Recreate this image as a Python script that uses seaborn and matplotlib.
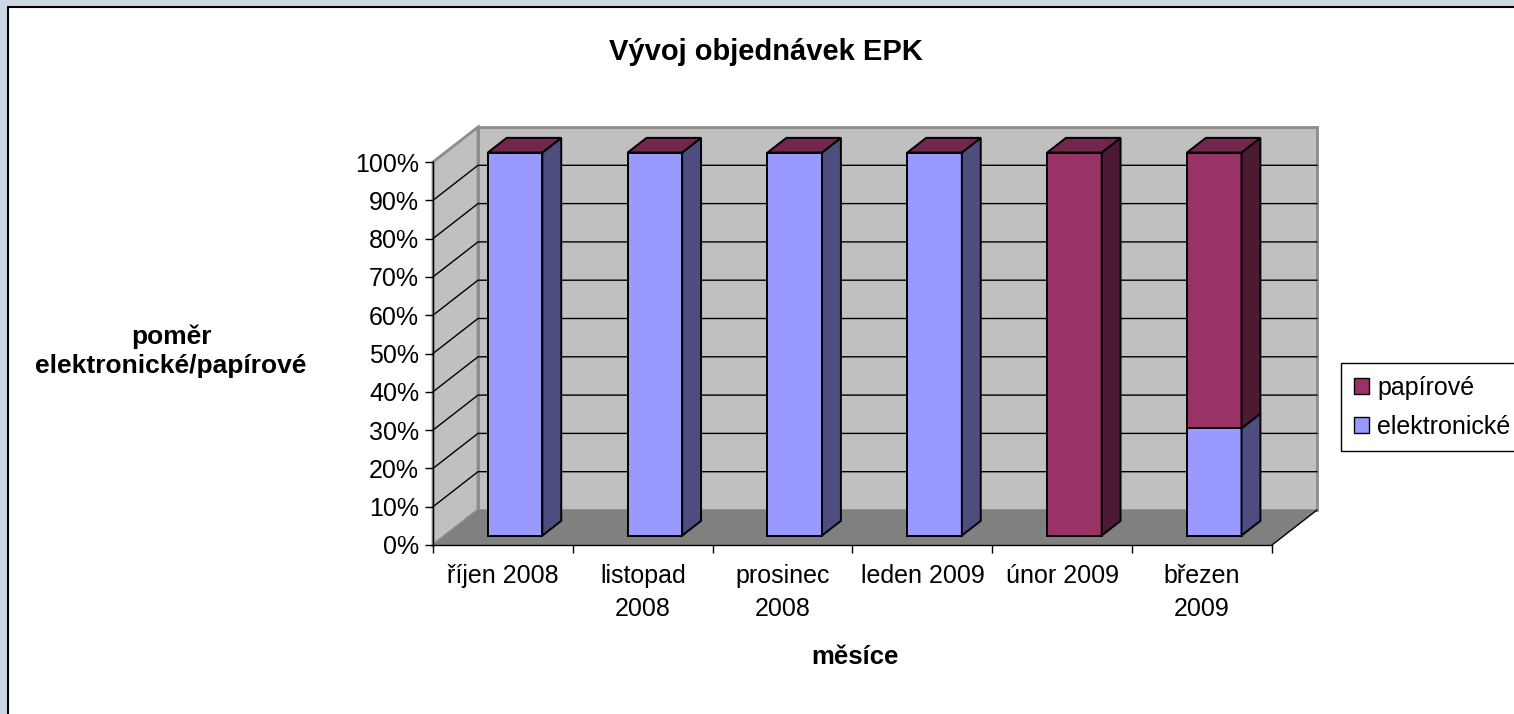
import numpy as np
import pandas as pd
import matplotlib
matplotlib.use("Agg")
import matplotlib.pyplot as plt
import seaborn as sns
from matplotlib.patches import Rectangle, Polygon, Patch

# Data (100% skladany sloupcovy graf)
mesice = ["říjen 2008", "listopad\n2008", "prosinec\n2008", "leden 2009", "únor 2009", "březen\n2009"]
elektronicke = [100, 100, 100, 100, 0, 28]
papirove = [0, 0, 0, 0, 100, 72]
y_ticks = list(range(0, 101, 10))

modra = "#9999FF"
vinova = "#993366"

sns.set_style("white")
plt.rcParams["font.family"] = ["Liberation Sans", "DejaVu Sans"]
plt.rcParams["text.color"] = "black"

W, H = 1514, 714
fig = plt.figure(figsize=(W / 100, H / 100), dpi=100)
fig.patch.set_facecolor("#CBD8E4")
fig.add_artist(Rectangle((8 / W, -0.05), 1.1, 1 - 7 / H + 0.05, transform=fig.transFigure,
                         facecolor="white", edgecolor="black", lw=1.5, zorder=0))

ax = fig.add_axes([433 / W, 1 - 545 / H, 839 / W, 383 / H])
ax.patch.set_visible(False)

df = pd.DataFrame({"mesic": mesice, "elektronicke": elektronicke, "papirove": papirove})
df["celkem"] = df["elektronicke"] + df["papirove"]

# predni steny sloupcu
sns.barplot(data=df, x="mesic", y="celkem", color=vinova, saturation=1, width=0.39,
            edgecolor="black", linewidth=1.4, ax=ax, zorder=3)
sns.barplot(data=df, x="mesic", y="elektronicke", color=modra, saturation=1, width=0.39,
            edgecolor="black", linewidth=1.4, ax=ax, zorder=3)

n = len(mesice)
ax.set_xlim(-0.5, n - 0.5)
ax.set_ylim(0, 100)
x_lo, x_hi = ax.get_xlim()

# 3D efekt - posun do hloubky (v datovych jednotkach)
DX = 45 / (839 / n)
DY = 35 / (383 / 100)
D0 = 0.27   # predni stena sloupce
BD = 0.42   # hloubka sloupce


def tmava(c, f):
    r, g, b = matplotlib.colors.to_rgb(c)
    return (r * f, g * f, b * f)


for p in ax.patches:
    p.set_x(p.get_x() + D0 * DX)
    p.set_y(p.get_y() + D0 * DY)
    p.set_clip_on(False)

for i, p in enumerate(ax.patches[:n]):
    x0 = p.get_x()
    x1 = x0 + p.get_width()
    y0 = p.get_y()
    e, pa = elektronicke[i], papirove[i]
    segs = [(0, e, modra), (e, e + pa, vinova)]
    for lo, hi, c in segs:
        if hi - lo <= 0:
            continue
        ax.add_patch(Polygon([(x1, y0 + lo), (x1 + BD * DX, y0 + lo + BD * DY),
                              (x1 + BD * DX, y0 + hi + BD * DY), (x1, y0 + hi)],
                             closed=True, facecolor=tmava(c, 0.5), edgecolor="black",
                             lw=1.4, zorder=3, clip_on=False))
    top = y0 + e + pa
    ax.add_patch(Polygon([(x0, top), (x1, top), (x1 + BD * DX, top + BD * DY),
                          (x0 + BD * DX, top + BD * DY)],
                         closed=True, facecolor=tmava(vinova, 0.75), edgecolor="black",
                         lw=1.4, zorder=3, clip_on=False))

# steny a podlaha
ax.add_patch(Rectangle((x_lo + DX, DY), x_hi - x_lo, 100, facecolor="#C0C0C0",
                       edgecolor="#8C8C8C", lw=2, zorder=0.5, clip_on=False))
ax.add_patch(Polygon([(x_lo, 0), (x_lo + DX, DY), (x_lo + DX, 100 + DY), (x_lo, 100)],
                     closed=True, facecolor="#C0C0C0", edgecolor="#8C8C8C", lw=2,
                     zorder=0.5, clip_on=False))
ax.add_patch(Polygon([(x_lo, 0), (x_hi, 0), (x_hi + DX, DY), (x_lo + DX, DY)],
                     closed=True, facecolor="#808080", edgecolor="none", zorder=0.6,
                     clip_on=False))
for v in y_ticks[1:-1]:
    ax.plot([x_lo, x_lo + DX, x_hi + DX], [v, v + DY, v + DY], color="black", lw=1,
            zorder=0.7, clip_on=False)
ax.plot([x_hi, x_hi + DX], [0, DY], color="black", lw=1, zorder=0.7, clip_on=False)

# osy
for s in ["top", "right"]:
    ax.spines[s].set_visible(False)
for s in ["left", "bottom"]:
    ax.spines[s].set_color("black")
    ax.spines[s].set_linewidth(1)
    ax.spines[s].set_zorder(4)

ax.set_yticks(y_ticks)
ax.set_yticklabels([f"{v}%" for v in y_ticks])
ax.set_xticks(np.arange(x_lo, x_hi + 0.01, 1))
ax.set_xticklabels([])
ax.set_xticks(range(n), minor=True)
ax.set_xticklabels(mesice, minor=True, linespacing=1.45)
ax.tick_params(axis="both", which="major", direction="out", length=6, width=1,
               color="black", labelsize=18, labelcolor="black", left=True, bottom=True)
ax.tick_params(axis="y", pad=4)
ax.tick_params(axis="x", which="minor", length=0, labelsize=18, pad=14, labelcolor="black")
ax.set_xlabel("")
ax.set_ylabel("")

fig.text(766 / W, 1 - 52 / H, "Vývoj objednávek EPK", ha="center", va="center",
         fontsize=21, fontweight="bold")
fig.text(855 / W, 1 - 657 / H, "měsíce", ha="center", va="center",
         fontsize=18.5, fontweight="bold")
fig.text(171 / W, 1 - 351 / H, "poměr\nelektronické/papírové", ha="center", va="center",
         fontsize=19, fontweight="bold", linespacing=1.25)

leg = fig.legend(handles=[Patch(facecolor=vinova, edgecolor="black", label="papírové"),
                          Patch(facecolor=modra, edgecolor="black", label="elektronické")],
                 loc="upper left", bbox_to_anchor=(1341 / W, 1 - 363 / H), frameon=True,
                 fancybox=False, edgecolor="black", framealpha=1, fontsize=18,
                 handlelength=0.6, handleheight=0.6, handletextpad=0.35,
                 labelspacing=0.6, borderpad=0.5, borderaxespad=0)
leg.get_frame().set_linewidth(1)

fig.savefig("out.png", dpi=100)
